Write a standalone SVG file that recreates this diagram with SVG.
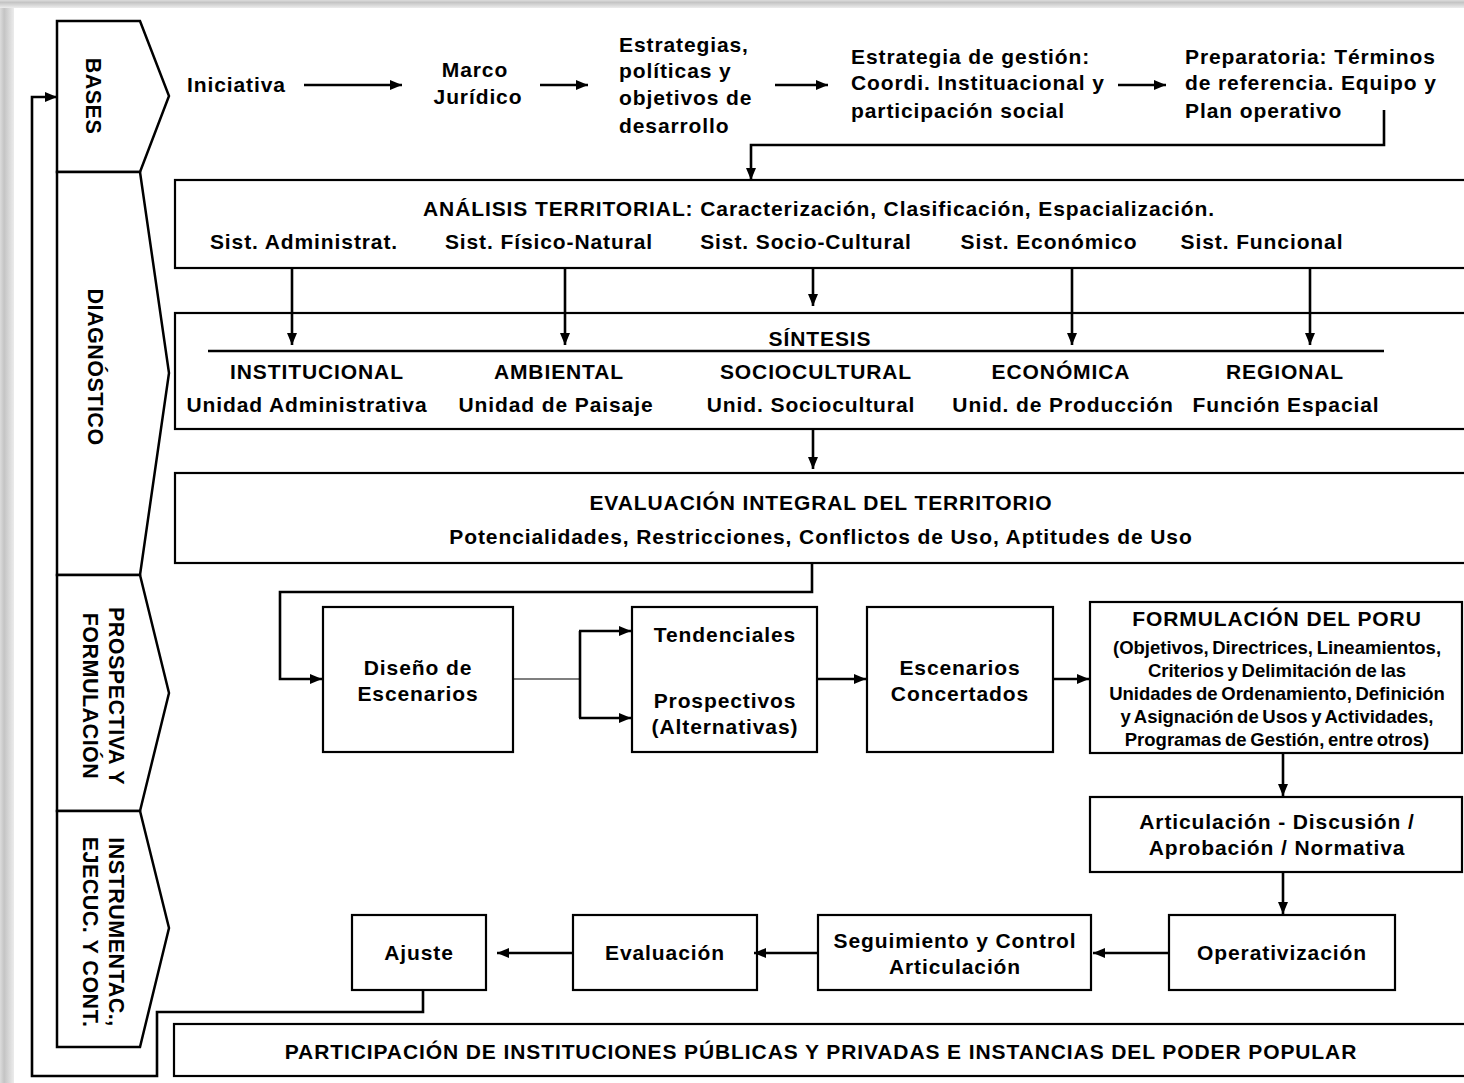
<svg xmlns="http://www.w3.org/2000/svg" width="1464" height="1083" viewBox="0 0 1464 1083">
<defs>
<linearGradient id="shL" x1="0" y1="0" x2="1" y2="0">
<stop offset="0" stop-color="#dcdcdc"/><stop offset="0.3" stop-color="#c4c4c4"/><stop offset="1" stop-color="#ececec"/>
</linearGradient>
<linearGradient id="shT" x1="0" y1="0" x2="0" y2="1">
<stop offset="0" stop-color="#dcdcdc"/><stop offset="0.3" stop-color="#c4c4c4"/><stop offset="1" stop-color="#ececec"/>
</linearGradient>
<marker id="ah" viewBox="0 0 12 10" refX="12" refY="5" markerWidth="12" markerHeight="10" markerUnits="userSpaceOnUse" orient="auto">
<path d="M0,0 L12,5 L0,10 Z" fill="#000"/>
</marker>
<style>
text{font-family:"Liberation Sans",Arial,sans-serif;font-weight:bold;font-size:21px;fill:#000;letter-spacing:0.9px;}
.c{text-anchor:middle;}
.ph{font-size:21.5px;text-anchor:middle;letter-spacing:0.5px;}
.sm{font-size:18.5px;text-anchor:middle;letter-spacing:0;word-spacing:-1.5px;}
.box{fill:#fff;stroke:#000;stroke-width:2.2;}
.pent{fill:#fff;stroke:#000;stroke-width:2.5;stroke-linejoin:miter;}
.cn{fill:none;stroke:#000;stroke-width:2.6;}
.ar{marker-end:url(#ah);}
.thin{fill:none;stroke:#000;stroke-width:1.2;}
</style>
</defs>
<rect width="1464" height="1083" fill="#fff"/>
<rect x="0" y="0" width="14" height="1083" fill="url(#shL)"/>
<rect x="0" y="0" width="1464" height="8" fill="url(#shT)"/>

<g id="phase-bases">
<path class="pent" d="M57,21 L140,21 L169,96 L140,172 L57,172 Z"/>
<text class="ph" transform="translate(93,96) rotate(90)" y="7.5">BASES</text>
</g>
<g id="phase-diagnostico">
<path class="pent" d="M57,172 L140,172 L169,373 L140,575 L57,575 Z"/>
<text class="ph" transform="translate(95,367) rotate(90)" y="7.5">DIAGNÓSTICO</text>
</g>
<g id="phase-prospectiva">
<path class="pent" d="M57,575 L140,575 L169,693 L140,811 L57,811 Z"/>
<text class="ph" transform="translate(116,696) rotate(90)" y="7.5">PROSPECTIVA Y</text>
<text class="ph" transform="translate(90,696) rotate(90)" y="7.5">FORMULACIÓN</text>
</g>
<g id="phase-instrumentac">
<path class="pent" d="M57,811 L140,811 L169,928 L140,1047 L57,1047 Z"/>
<text class="ph" transform="translate(116,932) rotate(90)" y="7.5">INSTRUMENTAC.,</text>
<text class="ph" transform="translate(90,932) rotate(90)" y="7.5">EJECUC. Y CONT.</text>
</g>

<g id="iniciativa"><text x="187" y="92">Iniciativa</text></g>
<g id="marco-juridico">
<text class="c" x="475" y="77">Marco</text>
<text class="c" x="478" y="104">Jurídico</text>
</g>
<g id="estrategias">
<text x="619" y="52">Estrategias,</text>
<text x="619" y="78">políticas y</text>
<text x="619" y="105">objetivos de</text>
<text x="619" y="133">desarrollo</text>
</g>
<g id="estrategia-gestion">
<text x="851" y="64">Estrategia de gestión:</text>
<text x="851" y="90">Coordi. Instituacional y</text>
<text x="851" y="118">participación social</text>
</g>
<g id="preparatoria">
<text x="1185" y="64">Preparatoria: Términos</text>
<text x="1185" y="90">de referencia. Equipo y</text>
<text x="1185" y="118">Plan operativo</text>
</g>

<g id="analisis-territorial">
<rect class="box" x="175" y="180" width="1300" height="88"/>
<text class="c" x="819" y="216">ANÁLISIS TERRITORIAL: Caracterización, Clasificación, Espacialización.</text>
<text class="c" x="304" y="249">Sist. Administrat.</text>
<text class="c" x="549" y="249">Sist. Físico-Natural</text>
<text class="c" x="806" y="249">Sist. Socio-Cultural</text>
<text class="c" x="1049" y="249">Sist. Económico</text>
<text class="c" x="1262" y="249">Sist. Funcional</text>
</g>

<g id="sintesis">
<rect class="box" x="175" y="313" width="1300" height="116"/>
<text class="c" x="820" y="346">SÍNTESIS</text>
<line x1="208" y1="351" x2="1384" y2="351" stroke="#000" stroke-width="2.6"/>
<text class="c" x="317" y="379">INSTITUCIONAL</text>
<text class="c" x="559" y="379">AMBIENTAL</text>
<text class="c" x="816" y="379">SOCIOCULTURAL</text>
<text class="c" x="1061" y="379">ECONÓMICA</text>
<text class="c" x="1285" y="379">REGIONAL</text>
<text class="c" x="307" y="412">Unidad Administrativa</text>
<text class="c" x="556" y="412">Unidad de Paisaje</text>
<text class="c" x="811" y="412">Unid. Sociocultural</text>
<text class="c" x="1063" y="412">Unid. de Producción</text>
<text class="c" x="1286" y="412">Función Espacial</text>
</g>

<g id="evaluacion-integral">
<rect class="box" x="175" y="473" width="1300" height="90"/>
<text class="c" x="821" y="510">EVALUACIÓN INTEGRAL DEL TERRITORIO</text>
<text class="c" x="821" y="544">Potencialidades, Restricciones, Conflictos de Uso, Aptitudes de Uso</text>
</g>

<g id="diseno-escenarios">
<rect class="box" x="323" y="607" width="190" height="145"/>
<text class="c" x="418" y="675">Diseño de</text>
<text class="c" x="418" y="701">Escenarios</text>
</g>
<g id="tendenciales-prospectivos">
<rect class="box" x="632" y="607" width="185" height="145"/>
<text class="c" x="725" y="642">Tendenciales</text>
<text class="c" x="725" y="708">Prospectivos</text>
<text class="c" x="725" y="734">(Alternativas)</text>
</g>
<g id="escenarios-concertados">
<rect class="box" x="867" y="607" width="186" height="145"/>
<text class="c" x="960" y="675">Escenarios</text>
<text class="c" x="960" y="701">Concertados</text>
</g>
<g id="formulacion-poru">
<rect class="box" x="1090" y="602" width="372" height="151"/>
<text class="c" x="1277" y="626" font-size="20">FORMULACIÓN DEL PORU</text>
<text class="sm" x="1277" y="654">(Objetivos, Directrices, Lineamientos,</text>
<text class="sm" x="1277" y="677">Criterios y Delimitación de las</text>
<text class="sm" x="1277" y="700">Unidades de Ordenamiento, Definición</text>
<text class="sm" x="1277" y="723">y Asignación de Usos y Actividades,</text>
<text class="sm" x="1277" y="746">Programas de Gestión, entre otros)</text>
</g>
<g id="articulacion-discusion">
<rect class="box" x="1090" y="797" width="372" height="75"/>
<text class="c" x="1277" y="829">Articulación - Discusión /</text>
<text class="c" x="1277" y="855">Aprobación / Normativa</text>
</g>
<g id="operativizacion">
<rect class="box" x="1169" y="915" width="226" height="75"/>
<text class="c" x="1282" y="960">Operativización</text>
</g>
<g id="seguimiento-control">
<rect class="box" x="818" y="915" width="273" height="75"/>
<text class="c" x="955" y="948">Seguimiento y Control</text>
<text class="c" x="955" y="974">Articulación</text>
</g>
<g id="evaluacion">
<rect class="box" x="573" y="915" width="184" height="75"/>
<text class="c" x="665" y="960">Evaluación</text>
</g>
<g id="ajuste">
<rect class="box" x="352" y="915" width="134" height="75"/>
<text class="c" x="419" y="960">Ajuste</text>
</g>
<g id="participacion">
<rect class="box" x="174" y="1024" width="1300" height="52"/>
<text class="c" x="821" y="1059">PARTICIPACIÓN DE INSTITUCIONES PÚBLICAS Y PRIVADAS E INSTANCIAS DEL PODER POPULAR</text>
</g>

<g id="connectors">
<path class="cn ar" d="M423,990 V1012 H157 V1076 H32 V97 H57"/>
<path class="cn ar" d="M304,85 H402"/>
<path class="cn ar" d="M540,85 H588"/>
<path class="cn ar" d="M775,85 H828"/>
<path class="cn ar" d="M1118,85 H1166"/>
<path class="cn ar" d="M1384,110 V145 H751 V180"/>
<path class="cn ar" d="M292,268 V345"/>
<path class="cn ar" d="M565,268 V345"/>
<path class="cn ar" d="M813,268 V306"/>
<path class="cn ar" d="M1072,268 V345"/>
<path class="cn ar" d="M1310,268 V345"/>
<path class="cn ar" d="M813,429 V469"/>
<path class="cn ar" d="M812,563 V592 H280 V679 H322"/>
<path class="thin" d="M513,679 H580"/>
<path class="cn" d="M580,631 V718"/>
<path class="cn ar" d="M579,631 H631"/>
<path class="cn ar" d="M579,718 H631"/>
<path class="cn ar" d="M817,679 H866"/>
<path class="cn ar" d="M1053,679 H1089"/>
<path class="cn ar" d="M1283,753 V796"/>
<path class="cn ar" d="M1283,872 V914"/>
<path class="cn ar" d="M1169,953 H1093"/>
<path class="cn ar" d="M818,953 H754"/>
<path class="cn ar" d="M573,953 H497"/>
</g>
</svg>
